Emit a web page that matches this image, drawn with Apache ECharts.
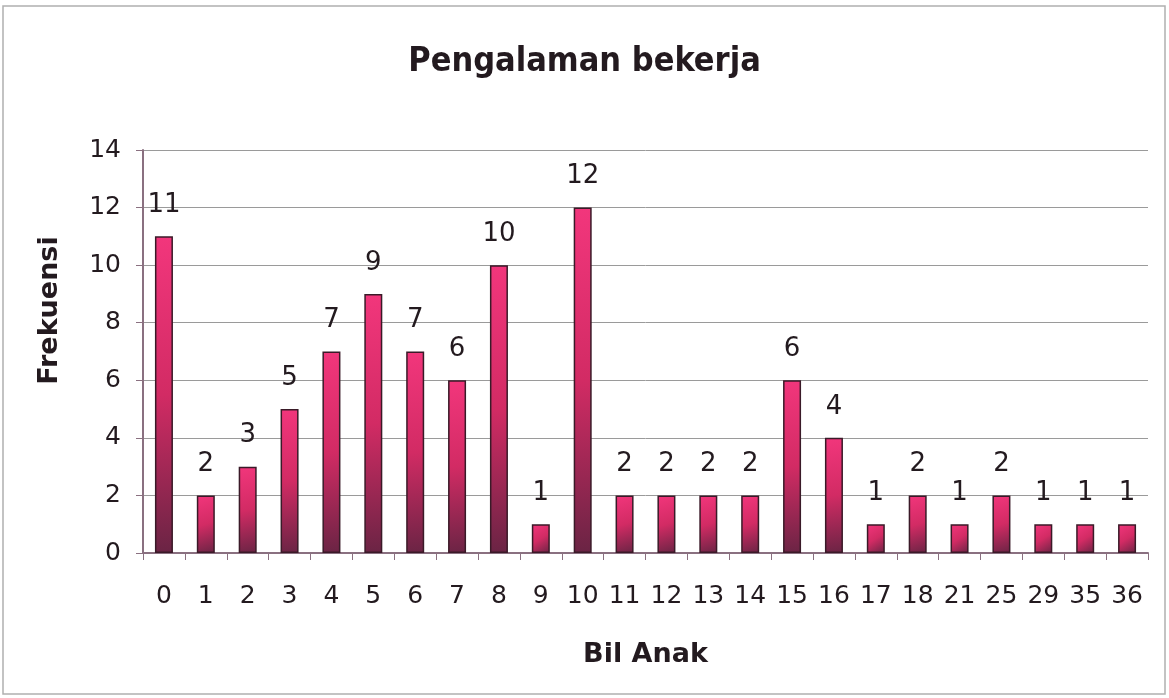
<!DOCTYPE html>
<html>
<head>
<meta charset="utf-8">
<script src="https://cdn.jsdelivr.net/npm/echarts@6/dist/echarts.min.js"></script>
<style>
html, body { margin: 0; padding: 0; background: #fff; }
#chart { width: 1169px; height: 698px; }
</style>
</head>
<body>
<div id="chart"></div>
<script>
// data
var categories = ['0','1','2','3','4','5','6','7','8','9','10','11','12','13','14','15','16','17','18','21','25','29','35','36'];
var frekuensi = [11,2,3,5,7,9,7,6,10,1,12,2,2,2,2,6,4,1,2,1,2,1,1,1];
var yTicks = [0,2,4,6,8,10,12,14];

var chart = echarts.init(document.getElementById('chart'));

var txtColor = '#231a1f';
var numFont = 'DejaVu Sans, sans-serif';
var barColor = new echarts.graphic.LinearGradient(0, 0, 1, 1, [
	{offset: 0, color: '#f2367c'},
	{offset: 0.5, color: '#d22b64'},
	{offset: 1, color: '#6a2444'}
]);

chart.setOption({
	animation: false,
	backgroundColor: '#fff',
	graphic: [{
		type: 'rect',
		shape: {x: 3, y: 6, width: 1162, height: 688},
		style: {fill: 'none', stroke: '#b0b0b0', lineWidth: 1.5},
		silent: true
	}],
	title: {
		text: 'Pengalaman bekerja',
		left: 'center',
		top: 40,
		textStyle: {
			fontFamily: 'DejaVu Sans Condensed, DejaVu Sans, sans-serif',
			fontSize: 34,
			fontWeight: 'bold',
			color: txtColor
		}
	},
	grid: {left: 143, right: 21, top: 150, bottom: 145},
	xAxis: {
		type: 'category',
		data: categories,
		name: 'Bil Anak',
		nameLocation: 'middle',
		nameGap: 88,
		nameTextStyle: {fontFamily: numFont, fontSize: 27, fontWeight: 'bold', color: txtColor},
		axisLine: {lineStyle: {color: '#8a7080', width: 2}},
		axisTick: {show: true, length: 7, lineStyle: {color: '#8a7080'}},
		axisLabel: {fontFamily: numFont, fontSize: 25, color: txtColor, margin: 31, interval: 0}
	},
	yAxis: {
		type: 'value',
		min: 0,
		max: 14,
		interval: 2,
		name: 'Frekuensi',
		nameLocation: 'middle',
		nameGap: 80,
		nameRotate: 90,
		nameTextStyle: {fontFamily: numFont, fontSize: 27, fontWeight: 'bold', color: txtColor, padding: [0, 0, 0, 82]},
		axisLine: {show: true, lineStyle: {color: '#8a7080', width: 2}},
		axisTick: {show: true, length: 7, lineStyle: {color: '#8a7080'}},
		axisLabel: {
			fontFamily: numFont, fontSize: 25, color: txtColor, margin: 22,
			formatter: function (v) { return yTicks.indexOf(v) >= 0 ? String(v) : ''; }
		},
		splitLine: {lineStyle: {color: '#9a9a9a', width: 1}}
	},
	series: [{
		type: 'bar',
		data: frekuensi,
		barWidth: 18,
		itemStyle: {color: barColor, borderColor: '#3a1a28', borderWidth: 1.5},
		label: {
			show: true,
			position: 'top',
			distance: 18,
			fontFamily: numFont,
			fontSize: 26,
			color: txtColor
		}
	}]
});
</script>
</body>
</html>
